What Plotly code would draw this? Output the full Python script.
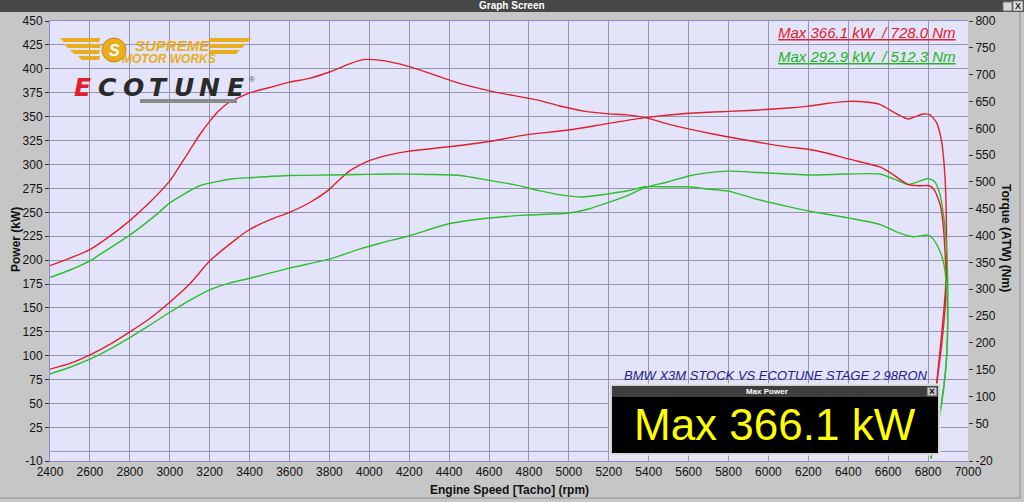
import plotly.graph_objects as go

# ---------------- data ----------------
# Ecotune (red) torque, Nm
red_tq_rpm = [2400, 2500, 2600, 2700, 2800, 2900, 3000, 3050, 3100, 3150, 3200, 3250, 3300, 3400,
              3500, 3600, 3700, 3800, 3900, 3967, 4050, 4192, 4300, 4408, 4500, 4625, 4850, 4950,
              5075, 5200, 5292, 5383, 5508, 5742, 5950, 6100, 6200, 6300, 6400, 6500, 6558, 6608,
              6700, 6760, 6808, 6833, 6863, 6878, 6888, 6892, 6885, 6870, 6855, 6838, 6830]
red_tq = [344, 358, 374, 399, 428, 462, 502, 530, 559, 588, 613, 634, 649, 666,
          676, 686, 693, 705, 720, 728, 727, 716, 703, 689, 679, 668, 652, 642,
          632, 627, 625, 620, 607, 588, 574, 565, 561, 553, 543, 534, 528, 518,
          495, 493, 493, 484, 454, 410, 349, 317, 265, 203, 158, 108, 80]

# Ecotune (red) power, kW
red_kw_rpm = [2400, 2500, 2600, 2700, 2800, 2900, 3000, 3100, 3200, 3333, 3400, 3500, 3600, 3700,
              3800, 3850, 3900, 3950, 4000, 4100, 4200, 4400, 4600, 4783, 5000, 5200, 5383, 5600,
              5800, 5950, 6100, 6200, 6300, 6400, 6500, 6558, 6650, 6700, 6775, 6808, 6842, 6867,
              6880, 6888, 6892, 6893, 6880, 6862, 6845, 6835]
red_kw = [86, 92, 101, 112, 125, 139, 156, 175, 199, 222, 232, 242, 250, 260,
          274, 284, 293, 299, 304, 310, 314, 318.5, 324, 331, 336, 343, 349, 353.5,
          355.5, 357, 359, 361, 364, 366, 365, 362.8, 352, 347.6, 352.8, 352, 344, 325,
          301, 273, 230, 190, 150, 110, 75, 45]

# Stock (green) torque, Nm
grn_tq_rpm = [2400, 2500, 2600, 2650, 2800, 2942, 3000, 3150, 3317, 3400, 3600, 3800, 3950, 4117,
              4300, 4458, 4600, 4725, 4850, 4958, 5067, 5183, 5300, 5383, 5500, 5600, 5692, 5800,
              5950, 6100, 6200, 6400, 6558, 6642, 6725, 6800, 6825, 6858, 6875, 6888, 6897, 6897,
              6890, 6868, 6840, 6815]
grn_tq = [322, 336, 353, 365, 401, 442, 461, 493, 506, 508, 512, 513, 514, 515,
          514, 512, 503, 495, 484, 476, 472, 477, 484, 491, 491, 491, 487, 483,
          467, 454, 446, 433, 421, 407, 398, 401, 394, 372, 354, 324, 265, 212,
          158, 87, 25, -16]

# Stock (green) power, kW
grn_kw_rpm = [2400, 2500, 2600, 2700, 2800, 2900, 3000, 3100, 3200, 3300, 3400, 3600, 3800, 3950,
              4050, 4200, 4400, 4600, 4783, 5000, 5100, 5200, 5300, 5383, 5500, 5600, 5700, 5800,
              5950, 6100, 6200, 6400, 6558, 6650, 6700, 6750, 6800, 6833, 6858, 6878, 6892, 6898,
              6899, 6893, 6880, 6862, 6838, 6813]
grn_kw = [81, 88, 96.5, 107, 119, 132, 145.5, 158, 169, 176, 181, 191.7, 201, 211.5,
          217.4, 225.5, 238, 244, 247, 249.3, 253.5, 260.4, 268, 276, 282, 288, 291.5, 293,
          291.6, 290, 289, 290, 290, 283, 279, 282, 285.4, 282, 270, 245.5, 214, 180,
          140, 100, 70, 45, 15, -7]

x_ticks = list(range(2400, 7001, 200))
left_ticks = [-10] + list(range(25, 451, 25))
right_ticks = [-20] + list(range(50, 801, 50))

legend_red = "Max 366.1 kW  / 728.0 Nm"
legend_green = "Max 292.9 kW  / 512.3 Nm"
subtitle = "BMW X3M STOCK VS ECOTUNE STAGE 2 98RON"
box_title = "Max Power"
box_text = "Max 366.1 kW"

# ---------------- styling ----------------
RED = "#e0202c"
GREEN = "#2cbf2c"
W, H = 1024, 502
PL, PR, PT, PB = 50, 968, 21, 461


def px(xp):
    return (xp - PL) / (PR - PL)


def py(yp):
    return (PB - yp) / (PB - PT)


fig = go.Figure()
line_kw = dict(shape="spline", smoothing=0.6, width=1.4)
fig.add_trace(go.Scatter(x=red_tq_rpm, y=red_tq, yaxis="y2", mode="lines",
                         line=dict(color=RED, **line_kw), name="Ecotune torque"))
fig.add_trace(go.Scatter(x=grn_tq_rpm, y=grn_tq, yaxis="y2", mode="lines",
                         line=dict(color=GREEN, **line_kw), name="Stock torque"))
fig.add_trace(go.Scatter(x=red_kw_rpm, y=red_kw, mode="lines",
                         line=dict(color=RED, **line_kw), name="Ecotune power"))
fig.add_trace(go.Scatter(x=grn_kw_rpm, y=grn_kw, mode="lines",
                         line=dict(color=GREEN, **line_kw), name="Stock power"))

tick_font = dict(family="Liberation Sans, Arial, sans-serif", size=12, color="#111111")
fig.update_layout(
    width=W, height=H,
    margin=dict(l=PL, r=W - PR, t=PT, b=H - PB, pad=0, autoexpand=False),
    paper_bgcolor="#c6c6c6",
    plot_bgcolor="#e3e3fa",
    showlegend=False,
    xaxis=dict(range=[2400, 7000], tickvals=x_ticks, ticktext=[str(v) for v in x_ticks],
               showgrid=True, gridcolor="#9494ac", gridwidth=1, zeroline=False,
               showline=True, linecolor="#8a8ad8", linewidth=1, mirror=True,
               ticks="", tickfont=tick_font, automargin=False),
    yaxis=dict(range=[-10, 450], tickvals=left_ticks, ticktext=[str(v) for v in left_ticks],
               showgrid=True, gridcolor="#9494ac", gridwidth=1, zeroline=False,
               showline=True, linecolor="#8a8ad8", linewidth=1, automargin=False,
               ticks="outside", ticklen=4, tickcolor="#333333", tickfont=tick_font),
    yaxis2=dict(range=[-20, 800], tickvals=right_ticks, ticktext=[str(v) for v in right_ticks],
                overlaying="y", side="right", showgrid=False, zeroline=False, showline=False,
                automargin=False,
                ticks="outside", ticklen=4, tickcolor="#333333", tickfont=tick_font),
)

shapes = []
# zero gridline on the power axis
shapes.append(dict(type="line", xref="paper", yref="y", x0=0, x1=1, y0=0, y1=0,
                   line=dict(color="#9494ac", width=1), layer="below"))
# title bar
shapes.append(dict(type="rect", xref="paper", yref="paper", x0=px(0), x1=px(W), y0=py(12), y1=py(0),
                   fillcolor="#474747", line=dict(width=0)))
shapes.append(dict(type="rect", xref="paper", yref="paper", x0=px(1003), x1=px(1012), y0=py(11), y1=py(2),
                   fillcolor="#d8d8d8", line=dict(color="#777", width=1)))
shapes.append(dict(type="rect", xref="paper", yref="paper", x0=px(1013), x1=px(1023), y0=py(11), y1=py(1),
                   fillcolor="#e4e4e4", line=dict(color="#777", width=1)))
# outer frame edges
shapes.append(dict(type="line", xref="paper", yref="paper", x0=px(1020), x1=px(1020), y0=py(498), y1=py(12),
                   line=dict(color="#8c8c8c", width=1)))
shapes.append(dict(type="line", xref="paper", yref="paper", x0=px(0), x1=px(1020), y0=py(498), y1=py(498),
                   line=dict(color="#8c8c8c", width=1)))
# Max Power box
shapes.append(dict(type="rect", xref="paper", yref="paper", x0=px(610), x1=px(940), y0=py(455), y1=py(384),
                   fillcolor="#d0d0d0", line=dict(color="#e8e8e8", width=1), layer="above"))
shapes.append(dict(type="rect", xref="paper", yref="paper", x0=px(612), x1=px(938), y0=py(397), y1=py(386),
                   fillcolor="#3e3e3e", line=dict(width=0), layer="above"))
shapes.append(dict(type="rect", xref="paper", yref="paper", x0=px(612), x1=px(938), y0=py(453), y1=py(397),
                   fillcolor="#000000", line=dict(width=0), layer="above"))
shapes.append(dict(type="rect", xref="paper", yref="paper", x0=px(927), x1=px(937), y0=py(396), y1=py(387),
                   fillcolor="#c8c8c8", line=dict(color="#555", width=1), layer="above"))

# Supreme Motor Works logo: wings + circle
GOLD = "#e8ae1e"
wing_left = [(60, 100, 38), (64, 101, 44), (70, 100, 50), (78, 100, 56)]
for a, b, yy in wing_left:
    shapes.append(dict(type="path", xref="paper", yref="paper",
                       path=f"M {px(a)},{py(yy)} L {px(b)},{py(yy)} L {px(b - 1)},{py(yy + 4)} L {px(a + 4)},{py(yy + 4)} Z",
                       fillcolor=GOLD, line=dict(width=0)))
wing_right = [(209, 252, 38), (209, 246, 44), (209, 240, 50)]
for a, b, yy in wing_right:
    shapes.append(dict(type="path", xref="paper", yref="paper",
                       path=f"M {px(a)},{py(yy)} L {px(b)},{py(yy)} L {px(b - 4)},{py(yy + 4)} L {px(a + 1)},{py(yy + 4)} Z",
                       fillcolor=GOLD, line=dict(width=0)))
shapes.append(dict(type="circle", xref="paper", yref="paper", x0=px(102), x1=px(126), y0=py(62), y1=py(38),
                   fillcolor=GOLD, line=dict(color="#c88a10", width=1)))
# Ecotune underline bar
shapes.append(dict(type="rect", xref="paper", yref="paper", x0=px(140), x1=px(237), y0=py(103), y1=py(99),
                   fillcolor="#8a8a8a", line=dict(width=0)))
fig.update_layout(shapes=shapes)

ann = []


def add_text(text, xp, yp, size, color, family="Liberation Sans, Arial, sans-serif",
             xanchor="center", yanchor="middle", angle=0):
    ann.append(dict(text=text, xref="paper", yref="paper", x=px(xp), y=py(yp), showarrow=False,
                    xanchor=xanchor, yanchor=yanchor, textangle=angle,
                    font=dict(family=family, size=size, color=color)))


add_text("<b>Graph Screen</b>", 512, 6, 10, "#ffffff", family="Liberation Sans Narrow, Liberation Sans, Arial")
add_text("<b>X</b>", 1018, 6, 9, "#222222")
add_text("<b>Power (kW)</b>", 16, 240, 12, "#111111", angle=-90)
add_text("<b>Torque (ATW) (Nm)</b>", 1006, 238, 12, "#111111", angle=90)
add_text("<b>Engine Speed [Tacho] (rpm)</b>", 509, 490, 12, "#111111")
add_text(f"<i><u>{legend_red}</u></i>", 867, 33, 15, RED)
add_text(f"<i><u>{legend_green}</u></i>", 867, 56, 15, "#22b522")
add_text(f"<i>{subtitle}</i>", 776, 375, 13, "#22228a")
add_text(f"<b>{box_title}</b>", 767, 391, 8, "#ffffff")
add_text("<b>×</b>", 932, 391, 10, "#111111")
add_text(box_text, 775, 424, 44, "#ffff00")
# logo texts
add_text("<b><i>S</i></b>", 114, 50, 16, "#ffffff")
add_text("<b><i>SUPREME</i></b>", 172, 45, 15, GOLD, family="Liberation Sans Narrow, Liberation Sans, Arial")
add_text("<b><i>MOTOR WORKS</i></b>", 169, 59, 12, GOLD, family="Liberation Sans Narrow, Liberation Sans, Arial")
eco = "ECOTUNE"
for i, ch in enumerate(eco):
    add_text(f"<b><i>{ch}</i></b>", 82 + i * 25.5, 88, 25, RED if i == 0 else "#2a2a2a",
             family="DejaVu Sans, Liberation Sans, Arial")
add_text("®", 252, 79, 8, "#555555")
fig.update_layout(annotations=ann)

fig.write_html("out.html", config=dict(displayModeBar=False),
               post_script="document.body.style.margin='0';document.body.style.padding='0';"
                           "document.body.style.overflow='hidden';")
